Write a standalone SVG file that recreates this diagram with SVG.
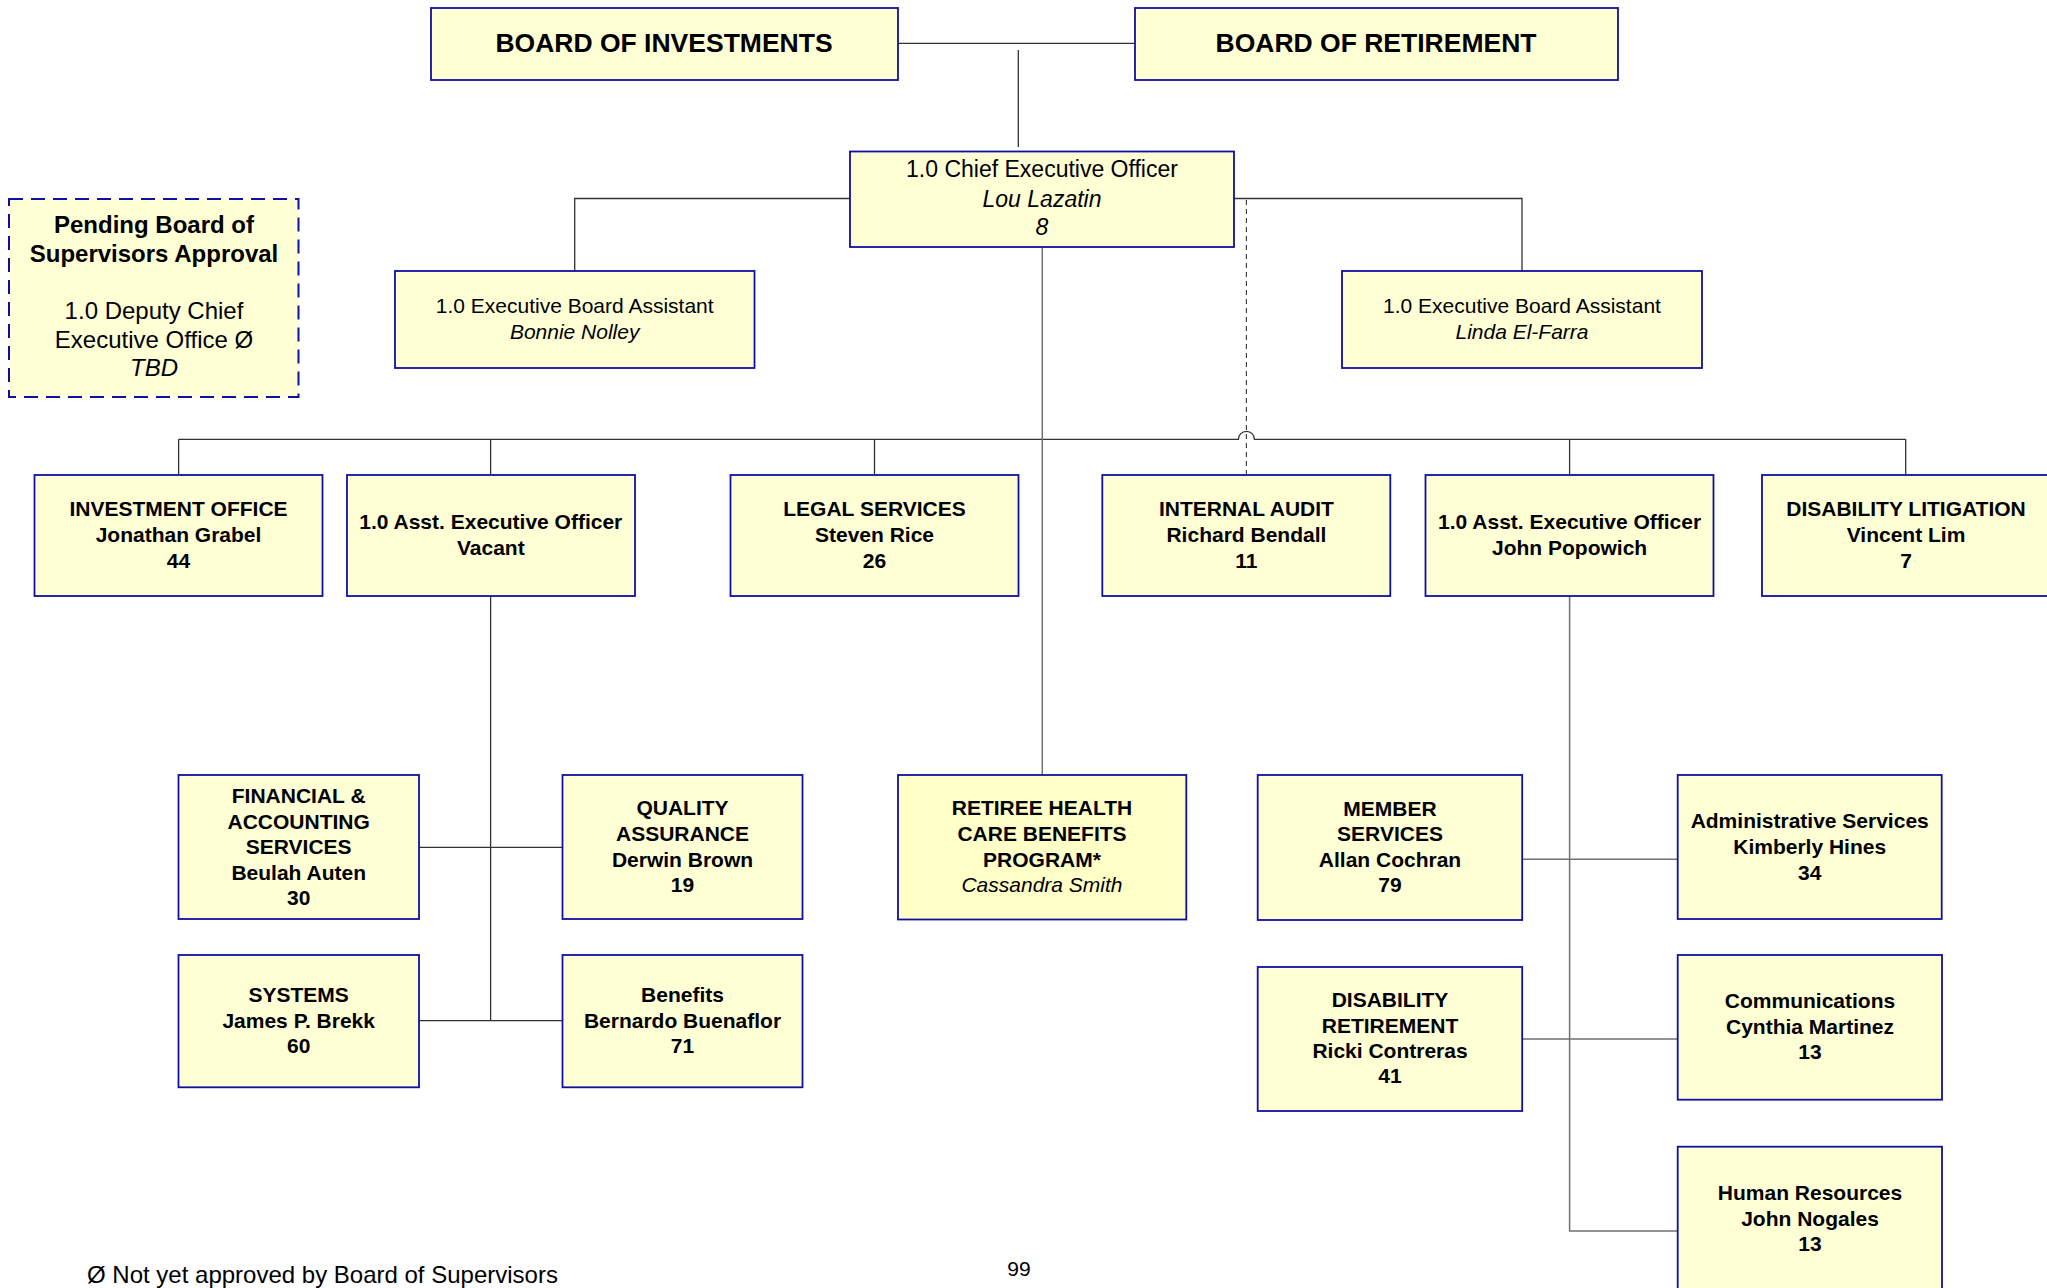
<svg xmlns="http://www.w3.org/2000/svg" width="2047" height="1288" viewBox="0 0 2047 1288">
<style>
.box{fill:#FFFFD6;stroke:#1010A0;stroke-width:1.8}
.rhc{fill:#FFFFC8;stroke:#1010A0;stroke-width:1.8}
.pend{fill:#FFFFD6;stroke:#1010A0;stroke-width:2;stroke-dasharray:14 8}
.ln{fill:none;stroke:#333;stroke-width:1.3}
.lg{fill:none;stroke:#707070;stroke-width:1.5}
.dash{fill:none;stroke:#444;stroke-width:1.2;stroke-dasharray:5 4}
text{font-family:"Liberation Sans",Arial,sans-serif;fill:#000;text-anchor:middle}
.b{font-weight:bold;font-size:21px}
.r{font-size:21px}
.i{font-style:italic}
.big{font-weight:bold;font-size:26.5px}
.ceo{font-size:23px}
.p{font-size:24px}
</style>
<rect width="2047" height="1288" fill="#fff"/>
<g id="connectors">
<path class="ln" d="M898 43.3 H1135"/>
<path class="ln" d="M1018.3 50 V147"/>
<path class="ln" d="M850 198.5 H574.7 V271"/>
<path class="ln" d="M1234 198.5 H1522 V271"/>
<path class="dash" d="M1246.4 200 V475"/>
<path class="ln" d="M178.6 439.3 H1238.4 A8 8 0 0 1 1254.4 439.3 H1905.7"/>
<path class="ln" d="M178.6 439.3 V475 M490.6 439.3 V475 M874.5 439.3 V475 M1569.6 439.3 V475 M1905.7 439.3 V475"/>
<path class="lg" d="M1042.3 246.7 V775"/>
<path class="ln" d="M490.6 596 V1020.7 M419 847.3 H562.5 M419 1020.7 H562.5"/>
<path class="lg" d="M1569.6 596 V1231 H1677.7 M1522.3 859.3 H1677.7 M1522.3 1039 H1677.7"/>
</g>
<g id="board-investments"><rect class="box" x="431" y="8" width="467" height="72"/><text class="big" x="664" y="52">BOARD OF INVESTMENTS</text></g>
<g id="board-retirement"><rect class="box" x="1135" y="8" width="483" height="72"/><text class="big" x="1376" y="52">BOARD OF RETIREMENT</text></g>
<g id="ceo"><rect class="box" x="850" y="151.5" width="384" height="95.5"/>
<text class="ceo" x="1042" y="177.3">1.0 Chief Executive Officer</text>
<text class="ceo i" x="1042" y="207.3">Lou Lazatin</text>
<text class="ceo i" x="1042" y="235">8</text></g>
<g id="pending"><rect class="pend" x="9" y="199" width="289.5" height="198"/>
<text class="p" font-weight="bold" x="154" y="233">Pending Board of</text>
<text class="p" font-weight="bold" x="154" y="261.5">Supervisors Approval</text>
<text class="p" x="154" y="319.3">1.0 Deputy Chief</text>
<text class="p" x="154" y="348.3">Executive Office Ø</text>
<text class="p i" x="154" y="376">TBD</text></g>
<g id="assistant-bonnie"><rect class="box" x="395" y="271" width="359.5" height="97"/>
<text class="r" x="574.7" y="313">1.0 Executive Board Assistant</text>
<text class="r i" x="574.7" y="339">Bonnie Nolley</text></g>
<g id="assistant-linda"><rect class="box" x="1342" y="271" width="360" height="97"/>
<text class="r" x="1522" y="313">1.0 Executive Board Assistant</text>
<text class="r i" x="1522" y="339">Linda El-Farra</text></g>
<g id="investment-office"><rect class="box" x="34.5" y="475" width="288" height="121"/>
<text class="b" x="178.5" y="516">INVESTMENT OFFICE</text><text class="b" x="178.5" y="542">Jonathan Grabel</text><text class="b" x="178.5" y="567.5">44</text></g>
<g id="aeo-vacant"><rect class="box" x="347" y="475" width="288" height="121"/>
<text class="b" x="490.8" y="529.3">1.0 Asst. Executive Officer</text><text class="b" x="490.8" y="555">Vacant</text></g>
<g id="legal"><rect class="box" x="730.5" y="475" width="288" height="121"/>
<text class="b" x="874.5" y="516">LEGAL SERVICES</text><text class="b" x="874.5" y="542">Steven Rice</text><text class="b" x="874.5" y="567.5">26</text></g>
<g id="internal-audit"><rect class="box" x="1102.3" y="475" width="288" height="121"/>
<text class="b" x="1246.4" y="516">INTERNAL AUDIT</text><text class="b" x="1246.4" y="542">Richard Bendall</text><text class="b" x="1246.4" y="567.5">11</text></g>
<g id="aeo-popowich"><rect class="box" x="1425.5" y="475" width="288" height="121"/>
<text class="b" x="1569.6" y="529.3">1.0 Asst. Executive Officer</text><text class="b" x="1569.6" y="555">John Popowich</text></g>
<g id="disability-litigation"><rect class="box" x="1762" y="475" width="288" height="121"/>
<text class="b" x="1906" y="516">DISABILITY LITIGATION</text><text class="b" x="1906" y="541.7">Vincent Lim</text><text class="b" x="1906" y="567.5">7</text></g>
<g id="financial"><rect class="box" x="178.5" y="775" width="240.5" height="144"/>
<text class="b" x="298.7" y="803.3">FINANCIAL &amp;</text><text class="b" x="298.7" y="829">ACCOUNTING</text><text class="b" x="298.7" y="854.3">SERVICES</text><text class="b" x="298.7" y="879.5">Beulah Auten</text><text class="b" x="298.7" y="905">30</text></g>
<g id="quality"><rect class="box" x="562.5" y="775" width="240" height="144"/>
<text class="b" x="682.5" y="815">QUALITY</text><text class="b" x="682.5" y="841">ASSURANCE</text><text class="b" x="682.5" y="866.7">Derwin Brown</text><text class="b" x="682.5" y="891.7">19</text></g>
<g id="retiree-health"><rect class="rhc" x="898" y="775" width="288.3" height="144.5"/>
<text class="b" x="1042" y="815">RETIREE HEALTH</text><text class="b" x="1042" y="841">CARE BENEFITS</text><text class="b" x="1042" y="866.7">PROGRAM*</text><text class="r i" x="1042" y="891.7">Cassandra Smith</text></g>
<g id="member-services"><rect class="box" x="1257.7" y="775" width="264.5" height="145"/>
<text class="b" x="1390" y="815.7">MEMBER</text><text class="b" x="1390" y="841">SERVICES</text><text class="b" x="1390" y="866.7">Allan Cochran</text><text class="b" x="1390" y="892.3">79</text></g>
<g id="admin-services"><rect class="box" x="1677.7" y="775" width="264" height="144"/>
<text class="b" x="1809.7" y="828.3">Administrative Services</text><text class="b" x="1809.7" y="854">Kimberly Hines</text><text class="b" x="1809.7" y="879.5">34</text></g>
<g id="systems"><rect class="box" x="178.5" y="955" width="240.5" height="132.3"/>
<text class="b" x="298.7" y="1001.7">SYSTEMS</text><text class="b" x="298.7" y="1027.7">James P. Brekk</text><text class="b" x="298.7" y="1052.7">60</text></g>
<g id="benefits"><rect class="box" x="562.5" y="955" width="240" height="132.3"/>
<text class="b" x="682.5" y="1001.7">Benefits</text><text class="b" x="682.5" y="1027.7">Bernardo Buenaflor</text><text class="b" x="682.5" y="1052.7">71</text></g>
<g id="disability-retirement"><rect class="box" x="1257.7" y="967" width="264.5" height="144"/>
<text class="b" x="1390" y="1006.7">DISABILITY</text><text class="b" x="1390" y="1032.7">RETIREMENT</text><text class="b" x="1390" y="1057.7">Ricki Contreras</text><text class="b" x="1390" y="1083.3">41</text></g>
<g id="communications"><rect class="box" x="1677.7" y="955" width="264.3" height="144.7"/>
<text class="b" x="1810" y="1008.3">Communications</text><text class="b" x="1810" y="1034">Cynthia Martinez</text><text class="b" x="1810" y="1059">13</text></g>
<g id="human-resources"><rect class="box" x="1677.7" y="1146.7" width="264.3" height="160"/>
<text class="b" x="1810" y="1200">Human Resources</text><text class="b" x="1810" y="1226">John Nogales</text><text class="b" x="1810" y="1251">13</text></g>
<text class="r" x="1019" y="1276">99</text>
<text class="p" x="87" y="1283" text-anchor="start" style="text-anchor:start">Ø Not yet approved by Board of Supervisors</text>
</svg>
